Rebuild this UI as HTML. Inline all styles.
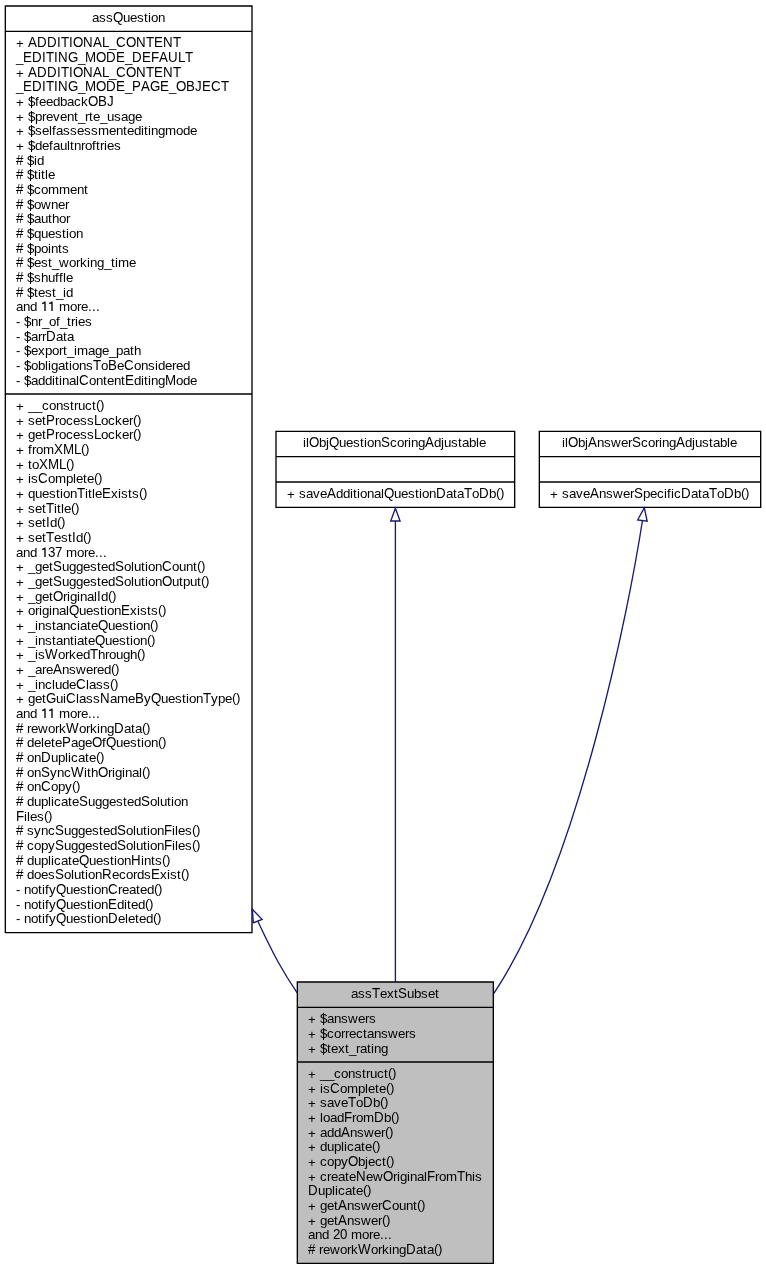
<!DOCTYPE html>
<html><head><meta charset="utf-8"><style>
html,body{margin:0;padding:0;background:#fff;width:766px;height:1269px;overflow:hidden}
svg{display:block;will-change:transform}
text{font-family:"Liberation Sans",sans-serif;font-size:13.3333px;fill:#000;white-space:pre}
</style></head><body>
<svg width="766" height="1269" viewBox="0 0 766 1269">
<rect x="0" y="0" width="766" height="1269" fill="#fff"/>
<polygon points="5.33,6.0 252.0,6.0 252.0,932.67 5.33,932.67" fill="#fff" stroke="#000" stroke-width="1.3333"/>
<line x1="5.33" y1="31.33" x2="252.0" y2="31.33" stroke="#000" stroke-width="1.3333"/>
<line x1="5.33" y1="394.0" x2="252.0" y2="394.0" stroke="#000" stroke-width="1.3333"/>
<polygon points="276.0,431.33 514.67,431.33 514.67,507.33 276.0,507.33" fill="#fff" stroke="#000" stroke-width="1.3333"/>
<line x1="276.0" y1="456.67" x2="514.67" y2="456.67" stroke="#000" stroke-width="1.3333"/>
<line x1="276.0" y1="482.0" x2="514.67" y2="482.0" stroke="#000" stroke-width="1.3333"/>
<polygon points="539.33,431.33 760.67,431.33 760.67,507.33 539.33,507.33" fill="#fff" stroke="#000" stroke-width="1.3333"/>
<line x1="539.33" y1="456.67" x2="760.67" y2="456.67" stroke="#000" stroke-width="1.3333"/>
<line x1="539.33" y1="482.0" x2="760.67" y2="482.0" stroke="#000" stroke-width="1.3333"/>
<polygon points="297.33,982.0 493.33,982.0 493.33,1263.33 297.33,1263.33" fill="#bfbfbf" stroke="#000" stroke-width="1.3333"/>
<line x1="297.33" y1="1007.33" x2="493.33" y2="1007.33" stroke="#000" stroke-width="1.3333"/>
<line x1="297.33" y1="1062.0" x2="493.33" y2="1062.0" stroke="#000" stroke-width="1.3333"/>
<text x="92 99 106 123 130 137 144 148 151 158" y="22">assuestion</text>
<text transform="matrix(1,0,0,1.05,0,-1.100)" x="113" y="22">Q</text>
<text x="24 109" y="47"> _</text>
<text transform="matrix(1,0,0,1.05,0,-2.350)" x="28 37 47 57 61 69 73 83 93 102 116 126 136 146 154 163 173" y="47">ADDITIONALCONTENT</text>
<text x="16" y="48">+</text>
<text x="16 78 125" y="62">___</text>
<text transform="matrix(1,0,0,1.05,0,-3.100)" x="23 32 42 46 54 58 68 85 96 106 116 132 142 151 159 168 178 185" y="62">EDITINGMODEDEFAULT</text>
<text x="24 109" y="77"> _</text>
<text transform="matrix(1,0,0,1.05,0,-3.850)" x="28 37 47 57 61 69 73 83 93 102 116 126 136 146 154 163 173" y="77">ADDITIONALCONTENT</text>
<text x="16" y="78">+</text>
<text x="16 78 125 169" y="91">____</text>
<text transform="matrix(1,0,0,1.05,0,-4.550)" x="23 32 42 46 54 58 68 85 96 106 116 132 141 150 160 176 186 195 202 211 221" y="91">EDITINGMODEPAGEOBJECT</text>
<text x="24 28 35 39 46 53 60 67 74 81" y="106"> $feedback</text>
<text transform="matrix(1,0,0,1.05,0,-5.300)" x="88 98 107" y="106">OBJ</text>
<text x="16" y="107">+</text>
<text x="24 28 35 42 46 53 60 67 74 78 85 89 93 100 107 114 121 128 135" y="121"> $prevent_rte_usage</text>
<text x="16" y="122">+</text>
<text x="24 28 35 42 49 52 56 63 70 77 84 91 98 109 116 123 127 134 141 144 148 151 158 165 176 183 190" y="135"> $selfassessmenteditingmode</text>
<text x="16" y="136">+</text>
<text x="24 28 35 42 49 53 60 67 70 74 81 85 92 96 100 104 107 114" y="150"> $defaultnroftries</text>
<text x="16" y="151">+</text>
<text x="23 27 34 37" y="165"> $id</text>
<text transform="matrix(1,0,0,1.05,0,-8.250)" x="16" y="165">#</text>
<text x="23 27 34 38 41 45 48" y="179"> $title</text>
<text transform="matrix(1,0,0,1.05,0,-8.950)" x="16" y="179">#</text>
<text x="23 27 34 41 48 59 70 77 84" y="194"> $comment</text>
<text transform="matrix(1,0,0,1.05,0,-9.700)" x="16" y="194">#</text>
<text x="23 27 34 41 51 58 65" y="209"> $owner</text>
<text transform="matrix(1,0,0,1.05,0,-10.450)" x="16" y="209">#</text>
<text x="23 27 34 41 48 52 59 66" y="223"> $author</text>
<text transform="matrix(1,0,0,1.05,0,-11.150)" x="16" y="223">#</text>
<text x="23 27 34 41 48 55 62 66 69 76" y="238"> $question</text>
<text transform="matrix(1,0,0,1.05,0,-11.900)" x="16" y="238">#</text>
<text x="23 27 34 41 48 51 58 62" y="253"> $points</text>
<text transform="matrix(1,0,0,1.05,0,-12.650)" x="16" y="253">#</text>
<text x="23 27 34 41 48 52 59 69 76 80 87 90 97 104 111 115 118 129" y="267"> $est_working_time</text>
<text transform="matrix(1,0,0,1.05,0,-13.350)" x="16" y="267">#</text>
<text x="23 27 34 41 48 55 59 63 66" y="282"> $shuffle</text>
<text transform="matrix(1,0,0,1.05,0,-14.100)" x="16" y="282">#</text>
<text x="23 27 34 38 45 52 56 63 66" y="297"> $test_id</text>
<text transform="matrix(1,0,0,1.05,0,-14.850)" x="16" y="297">#</text>
<text x="16 23 30 37 55 59 70 77 81 88 92 96" y="311">and  more...</text>
<text x="16 20 24 31 38 42 49 56 60 67 71 75 78 85" y="326">- $nr_of_tries</text>
<text x="16 20 24 31 38 42 56 63 67" y="341">- $arrata</text>
<text transform="matrix(1,0,0,1.05,0,-17.050)" x="46" y="341">D</text>
<text x="16 20 24 31 38 45 52 59 63 67 74 77 88 95 102 109 116 123 130 134" y="355">- $export_image_path</text>
<text x="16 20 24 31 38 45 48 51 58 65 69 72 79 86 101 117 134 141 148 155 158 165 172 176 183" y="370">- $obligationsoeonsidered</text>
<text transform="matrix(1,0,0,1.05,0,-18.500)" x="93 108 124" y="370">TBC</text>
<text x="16 20 24 31 38 45 52 55 59 62 69 76 89 96 103 107 114 121 134 141 144 148 151 158 176 183 190" y="385">- $additinalontentditingode</text>
<text transform="matrix(1,0,0,1.05,0,-19.250)" x="79 125 165" y="385">CEM</text>
<text x="24 28 35 42 49 56 63 70 74 78 85 92" y="410"> __construct</text>
<text x="16" y="411">+</text>
<text x="96 100" y="409">()</text>
<text x="24 28 35 42 55 59 66 73 80 87 101 108 115 122 129" y="425"> setrocessocker</text>
<text transform="matrix(1,0,0,1.05,0,-21.250)" x="46 94" y="425">PL</text>
<text x="16" y="426">+</text>
<text x="133 137" y="424">()</text>
<text x="24 28 35 42 55 59 66 73 80 87 101 108 115 122 129" y="439"> getrocessocker</text>
<text transform="matrix(1,0,0,1.05,0,-21.950)" x="46 94" y="439">PL</text>
<text x="16" y="440">+</text>
<text x="133 137" y="438">()</text>
<text x="24 28 32 36 43" y="454"> from</text>
<text transform="matrix(1,0,0,1.05,0,-22.700)" x="54 63 74" y="454">XML</text>
<text x="16" y="455">+</text>
<text x="81 85" y="453">()</text>
<text x="24 28 32" y="469"> to</text>
<text transform="matrix(1,0,0,1.05,0,-23.450)" x="39 48 59" y="469">XML</text>
<text x="16" y="470">+</text>
<text x="66 70" y="468">()</text>
<text x="24 28 31 48 55 66 73 76 83 87" y="483"> isomplete</text>
<text transform="matrix(1,0,0,1.05,0,-24.150)" x="38" y="483">C</text>
<text x="16" y="484">+</text>
<text x="94 98" y="482">()</text>
<text x="24 28 35 42 49 56 60 63 70 85 88 92 95 111 118 121 128 132" y="498"> questionitlexists</text>
<text transform="matrix(1,0,0,1.05,0,-24.900)" x="77 102" y="498">TE</text>
<text x="16" y="499">+</text>
<text x="139 143" y="497">()</text>
<text x="24 28 35 42 54 57 61 64" y="513"> setitle</text>
<text transform="matrix(1,0,0,1.05,0,-25.650)" x="46" y="513">T</text>
<text x="16" y="514">+</text>
<text x="71 75" y="512">()</text>
<text x="24 28 35 42 50" y="527"> setd</text>
<text transform="matrix(1,0,0,1.05,0,-26.350)" x="46" y="527">I</text>
<text x="16" y="528">+</text>
<text x="57 61" y="526">()</text>
<text x="24 28 35 42 54 61 68 76" y="542"> setestd</text>
<text transform="matrix(1,0,0,1.05,0,-27.100)" x="46 72" y="542">TI</text>
<text x="16" y="543">+</text>
<text x="83 87" y="541">()</text>
<text x="16 23 30 37 62 66 77 84 88 95 99 103" y="557">and  more...</text>
<text transform="matrix(1,0,0,1.05,0,-27.850)" x="48 55" y="557">37</text>
<text x="24 28 35 42 49 62 69 76 83 90 97 101 108 124 131 134 141 145 148 155 172 179 186 193" y="571"> _getuggestedolutionount</text>
<text transform="matrix(1,0,0,1.05,0,-28.550)" x="53 115 162" y="571">SSC</text>
<text x="16" y="572">+</text>
<text x="197 201" y="570">()</text>
<text x="24 28 35 42 49 62 69 76 83 90 97 101 108 124 131 134 141 145 148 155 172 179 183 190 197" y="586"> _getuggestedolutionutput</text>
<text transform="matrix(1,0,0,1.05,0,-29.300)" x="53 115 162" y="586">SSO</text>
<text x="16" y="587">+</text>
<text x="201 205" y="585">()</text>
<text x="24 28 35 42 49 63 67 70 77 80 87 94 101" y="601"> _getriginald</text>
<text transform="matrix(1,0,0,1.05,0,-30.050)" x="53 97" y="601">OI</text>
<text x="16" y="602">+</text>
<text x="108 112" y="600">()</text>
<text x="24 28 35 39 42 49 52 59 66 79 86 93 100 104 107 114 130 137 140 147 151" y="615"> originaluestionxists</text>
<text transform="matrix(1,0,0,1.05,0,-30.750)" x="69 121" y="615">QE</text>
<text x="16" y="616">+</text>
<text x="158 162" y="614">()</text>
<text x="24 28 35 38 45 52 56 63 70 77 80 87 91 108 115 122 129 133 136 143" y="630"> _instanciateuestion</text>
<text transform="matrix(1,0,0,1.05,0,-31.500)" x="98" y="630">Q</text>
<text x="16" y="631">+</text>
<text x="150 154" y="629">()</text>
<text x="24 28 35 38 45 52 56 63 70 74 77 84 88 105 112 119 126 130 133 140" y="645"> _instantiateuestion</text>
<text transform="matrix(1,0,0,1.05,0,-32.250)" x="95" y="645">Q</text>
<text x="16" y="646">+</text>
<text x="147 151" y="644">()</text>
<text x="24 28 35 38 58 65 69 76 83 98 105 109 116 123 130" y="659"> _isorkedhrough</text>
<text transform="matrix(1,0,0,1.05,0,-32.950)" x="45 90" y="659">WT</text>
<text x="16" y="660">+</text>
<text x="137 141" y="658">()</text>
<text x="24 28 35 42 46 62 69 76 86 93 97 104" y="674"> _arenswered</text>
<text transform="matrix(1,0,0,1.05,0,-33.700)" x="53" y="674">A</text>
<text x="16" y="675">+</text>
<text x="111 115" y="673">()</text>
<text x="24 28 35 38 45 52 55 62 69 86 89 96 103" y="689"> _includelass</text>
<text transform="matrix(1,0,0,1.05,0,-34.450)" x="76" y="689">C</text>
<text x="16" y="690">+</text>
<text x="110 114" y="688">()</text>
<text x="24 28 35 42 56 63 76 79 86 93 110 117 128 144 161 168 175 182 186 189 196 211 218 225" y="703"> getuilassameyuestionype</text>
<text transform="matrix(1,0,0,1.05,0,-35.150)" x="46 66 100 135 151 203" y="703">GCNBQT</text>
<text x="16" y="704">+</text>
<text x="232 236" y="702">()</text>
<text x="16 23 30 37 55 59 70 77 81 88 92 96" y="718">and  more...</text>
<text x="23 27 31 38 48 55 59 79 86 90 97 100 107 124 131 135" y="733"> reworkorkingata</text>
<text transform="matrix(1,0,0,1.05,0,-36.650)" x="16 66 114" y="733">#WD</text>
<text x="142 146" y="732">()</text>
<text x="23 27 34 41 44 51 55 71 78 85 102 116 123 130 137 141 144 151" y="747"> deleteagefuestion</text>
<text transform="matrix(1,0,0,1.05,0,-37.350)" x="16 62 92 106" y="747">#POQ</text>
<text x="158 162" y="746">()</text>
<text x="23 27 34 51 58 65 68 71 78 85 89" y="762"> onuplicate</text>
<text transform="matrix(1,0,0,1.05,0,-38.100)" x="16 41" y="762">#D</text>
<text x="96 100" y="761">()</text>
<text x="23 27 34 50 57 64 84 87 91 108 112 115 122 125 132 139" y="777"> onyncithriginal</text>
<text transform="matrix(1,0,0,1.05,0,-38.850)" x="16 41 71 98" y="777">#SWO</text>
<text x="142 146" y="776">()</text>
<text x="23 27 34 51 58 65" y="791"> onopy</text>
<text transform="matrix(1,0,0,1.05,0,-39.550)" x="16 41" y="791">#C</text>
<text x="72 76" y="790">()</text>
<text x="23 27 34 41 48 51 54 61 68 72 88 95 102 109 116 123 127 134 150 157 160 167 171 174 181" y="806"> duplicateuggestedolution</text>
<text transform="matrix(1,0,0,1.05,0,-40.300)" x="16 79 141" y="806">#SS</text>
<text x="24 27 30 37" y="821">iles</text>
<text transform="matrix(1,0,0,1.05,0,-41.050)" x="16" y="821">F</text>
<text x="44 48" y="820">()</text>
<text x="23 27 34 41 48 64 71 78 85 92 99 103 110 126 133 136 143 147 150 157 172 175 178 185" y="835"> syncuggestedolutioniles</text>
<text transform="matrix(1,0,0,1.05,0,-41.750)" x="16 55 117 164" y="835">#SSF</text>
<text x="192 196" y="834">()</text>
<text x="23 27 34 41 48 64 71 78 85 92 99 103 110 126 133 136 143 147 150 157 172 175 178 185" y="850"> copyuggestedolutioniles</text>
<text transform="matrix(1,0,0,1.05,0,-42.500)" x="16 55 117 164" y="850">#SSF</text>
<text x="192 196" y="849">()</text>
<text x="23 27 34 41 48 51 54 61 68 72 89 96 103 110 114 117 124 141 144 151 155" y="865"> duplicateuestionints</text>
<text transform="matrix(1,0,0,1.05,0,-43.250)" x="16 79 131" y="865">#QH</text>
<text x="162 166" y="864">()</text>
<text x="23 27 34 41 48 64 71 74 81 85 88 95 112 119 126 133 137 144 160 167 170 177" y="879"> doesolutionecordsxist</text>
<text transform="matrix(1,0,0,1.05,0,-43.950)" x="16 55 102 151" y="879">#SRE</text>
<text x="181 185" y="878">()</text>
<text x="16 20 24 31 38 42 45 49 66 73 80 87 91 94 101 118 122 129 136 140 147" y="894">- notifyuestionreated</text>
<text transform="matrix(1,0,0,1.05,0,-44.700)" x="56 108" y="894">QC</text>
<text x="154 158" y="893">()</text>
<text x="16 20 24 31 38 42 45 49 66 73 80 87 91 94 101 117 124 127 131 138" y="909">- notifyuestiondited</text>
<text transform="matrix(1,0,0,1.05,0,-45.450)" x="56 108" y="909">QE</text>
<text x="145 149" y="908">()</text>
<text x="16 20 24 31 38 42 45 49 66 73 80 87 91 94 101 118 125 128 135 139 146" y="923">- notifyuestioneleted</text>
<text transform="matrix(1,0,0,1.05,0,-46.150)" x="56 108" y="923">QD</text>
<text x="153 157" y="922">()</text>
<text x="303 306 319 326 339 346 353 360 364 367 374 390 397 404 408 411 418 434 441 444 451 458 462 469 476 479" y="447">ilbjuestioncoringdjustable</text>
<text transform="matrix(1,0,0,1.05,0,-22.350)" x="309 329 381 425" y="447">OQSA</text>
<text x="295 299 306 313 320 336 343 350 353 357 360 367 374 381 394 401 408 415 419 422 429 446 453 457 472 489" y="498"> savedditionaluestionataob</text>
<text transform="matrix(1,0,0,1.05,0,-24.900)" x="327 384 436 464 479" y="498">AQDTD</text>
<text x="287" y="499">+</text>
<text x="496 500" y="497">()</text>
<text x="562 565 578 585 597 604 611 621 628 641 648 655 659 662 669 685 692 695 702 709 713 720 727 730" y="447">ilbjnswercoringdjustable</text>
<text transform="matrix(1,0,0,1.05,0,-22.350)" x="568 588 632 676" y="447">OASA</text>
<text x="558 562 569 576 583 599 606 613 623 630 643 650 657 664 667 671 674 691 698 702 717 734" y="498"> savenswerpecificataob</text>
<text transform="matrix(1,0,0,1.05,0,-24.900)" x="590 634 681 709 724" y="498">ASDTD</text>
<text x="550" y="499">+</text>
<text x="741 745" y="497">()</text>
<text x="351 358 365 380 387 394 407 414 421 428 435" y="998">assextubset</text>
<text transform="matrix(1,0,0,1.05,0,-49.900)" x="372 398" y="998">TS</text>
<text x="316 320 327 334 341 348 358 365 369" y="1023"> $answers</text>
<text x="308" y="1024">+</text>
<text x="316 320 327 334 341 345 349 356 363 367 374 381 388 398 405 409" y="1038"> $correctanswers</text>
<text x="308" y="1039">+</text>
<text x="316 320 327 331 338 345 349 356 360 367 371 374 381" y="1053"> $text_rating</text>
<text x="308" y="1054">+</text>
<text x="316 320 327 334 341 348 355 362 366 370 377 384" y="1078"> __construct</text>
<text x="308" y="1079">+</text>
<text x="388 392" y="1077">()</text>
<text x="316 320 323 340 347 358 365 368 375 379" y="1093"> isomplete</text>
<text transform="matrix(1,0,0,1.05,0,-54.650)" x="330" y="1093">C</text>
<text x="308" y="1094">+</text>
<text x="386 390" y="1092">()</text>
<text x="316 320 327 334 341 356 373" y="1107"> saveob</text>
<text transform="matrix(1,0,0,1.05,0,-55.350)" x="348 363" y="1107">TD</text>
<text x="308" y="1108">+</text>
<text x="380 384" y="1106">()</text>
<text x="316 320 323 330 337 352 356 363 384" y="1122"> loadromb</text>
<text transform="matrix(1,0,0,1.05,0,-56.100)" x="344 374" y="1122">FD</text>
<text x="308" y="1123">+</text>
<text x="391 395" y="1121">()</text>
<text x="316 320 327 334 350 357 364 374 381" y="1137"> addnswer</text>
<text transform="matrix(1,0,0,1.05,0,-56.850)" x="341" y="1137">A</text>
<text x="308" y="1138">+</text>
<text x="385 389" y="1136">()</text>
<text x="316 320 327 334 341 344 347 354 361 365" y="1151"> duplicate</text>
<text x="308" y="1152">+</text>
<text x="372 376" y="1150">()</text>
<text x="316 320 327 334 341 358 365 368 375 382" y="1166"> copybject</text>
<text transform="matrix(1,0,0,1.05,0,-58.300)" x="348" y="1166">O</text>
<text x="308" y="1167">+</text>
<text x="386 390" y="1165">()</text>
<text x="316 320 327 331 338 345 349 366 373 393 397 400 407 410 417 424 435 439 446 465 472 475" y="1181"> createewriginalromhis</text>
<text transform="matrix(1,0,0,1.05,0,-59.050)" x="356 383 427 457" y="1181">NOFT</text>
<text x="308" y="1182">+</text>
<text x="318 325 332 335 338 345 352 356" y="1195">uplicate</text>
<text transform="matrix(1,0,0,1.05,0,-59.750)" x="308" y="1195">D</text>
<text x="363 367" y="1194">()</text>
<text x="316 320 327 334 347 354 361 371 378 392 399 406 413" y="1210"> getnswerount</text>
<text transform="matrix(1,0,0,1.05,0,-60.500)" x="338 382" y="1210">AC</text>
<text x="308" y="1211">+</text>
<text x="417 421" y="1209">()</text>
<text x="316 320 327 334 347 354 361 371 378" y="1225"> getnswer</text>
<text transform="matrix(1,0,0,1.05,0,-61.250)" x="338" y="1225">A</text>
<text x="308" y="1226">+</text>
<text x="382 386" y="1224">()</text>
<text x="308 315 322 329 347 351 362 369 373 380 384 388" y="1239">and  more...</text>
<text transform="matrix(1,0,0,1.05,0,-61.950)" x="333 340" y="1239">20</text>
<text x="315 319 323 330 340 347 351 371 378 382 389 392 399 416 423 427" y="1254"> reworkorkingata</text>
<text transform="matrix(1,0,0,1.05,0,-62.700)" x="308 358 406" y="1254">#WD</text>
<text x="434 438" y="1253">()</text>
<path d="M31.5,96V108M31.5,111V123M31.5,125V137M31.5,140V152M30.5,155V167M30.5,169V181M30.5,184V196M30.5,199V211M30.5,213V225M30.5,228V240M30.5,243V255M30.5,257V269M30.5,272V284M30.5,287V299M27.5,316V328M27.5,331V343M27.5,345V357M27.5,360V372M27.5,375V387M323.5,1013V1025M323.5,1028V1040M323.5,1043V1055" stroke="#000" stroke-width="1" fill="none"/>
<path d="M45.0,301.4V311M42.2,303.7L45.4,302.1M52.0,301.4V311M49.2,303.7L52.4,302.1M45.0,547.4V557M42.2,549.7L45.4,548.1M45.0,708.4V718M42.2,710.7L45.4,709.1M52.0,708.4V718M49.2,710.7L52.4,709.1" stroke="#000" stroke-width="1.33" fill="none"/>
<path d="M297.15,992.9 C282.76,971.63 274.0,955.81 257.73,921.03" fill="none" stroke="#191970" stroke-width="1.3333"/>
<polygon points="252.34,909.32 262.1,919.4 253.35,922.7" fill="#fff" stroke="#191970" stroke-width="1.3333"/>
<path d="M395.4,982.0 L395.4,521.0" fill="none" stroke="#191970" stroke-width="1.3333"/>
<polygon points="395.4,508.2 400.07,521.0 390.73,521.0" fill="#fff" stroke="#191970" stroke-width="1.3333"/>
<path d="M493.7,993.6 C579.28,864.82 629.91,602.29 642.36,521.0" fill="none" stroke="#191970" stroke-width="1.3333"/>
<polygon points="644.31,507.79 647.19,521.28 637.66,519.97" fill="#fff" stroke="#191970" stroke-width="1.3333"/>
</svg>
</body></html>
